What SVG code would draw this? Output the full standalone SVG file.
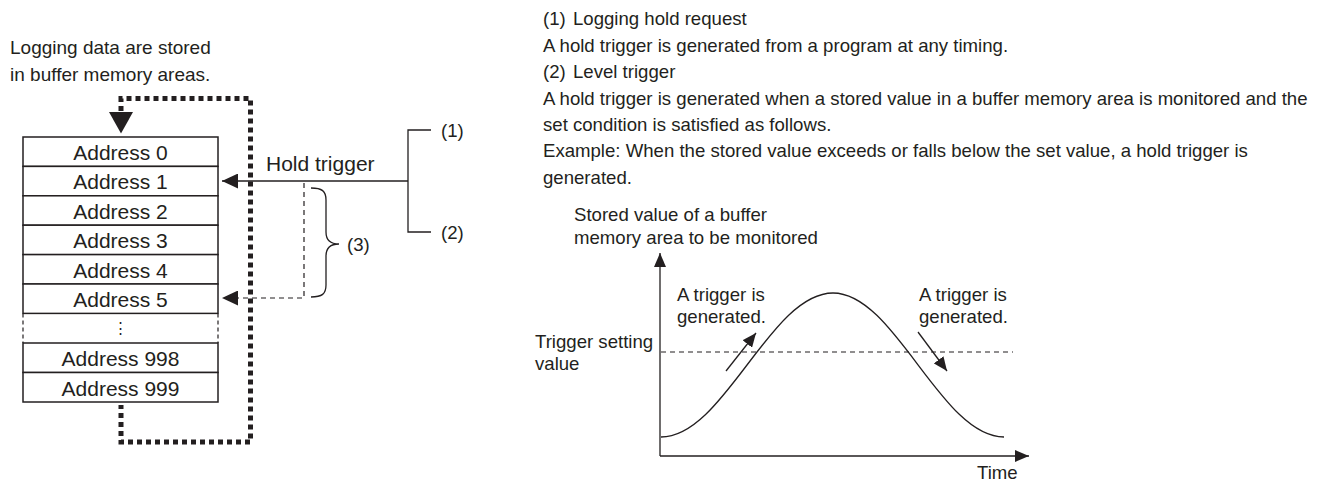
<svg xmlns="http://www.w3.org/2000/svg" width="1322" height="482" viewBox="0 0 1322 482">
<style>
text{font-family:"Liberation Sans",Arial,sans-serif;fill:#231f20}
.l{font-size:19px}
.a{font-size:21px;text-anchor:middle}
.r{font-size:18.6px}
.box{fill:#fff;stroke:#231f20;stroke-width:1.5}
.dot{fill:none;stroke:#231f20;stroke-width:5;stroke-dasharray:5 4}
.thin{fill:none;stroke:#231f20;stroke-width:1.3}
.dash{fill:none;stroke:#231f20;stroke-width:1.2;stroke-dasharray:5 4}
</style>
<defs>
<marker id="ah" markerWidth="16" markerHeight="15" refX="16" refY="7.5" orient="auto" markerUnits="userSpaceOnUse"><path d="M0,0 L16,7.5 L0,15 Z" fill="#231f20"/></marker>
<marker id="as" markerWidth="14" markerHeight="12" refX="14" refY="6" orient="auto" markerUnits="userSpaceOnUse"><path d="M0,0 L14,6 L0,12 Z" fill="#231f20"/></marker>
</defs>
<g id="caption">
<text class="l" x="10" y="54">Logging data are stored</text>
<text class="l" x="10" y="81">in buffer memory areas.</text>
</g>
<g id="buffer">
<rect class="box" x="23" y="137" width="195" height="29.4"/>
<rect class="box" x="23" y="166.4" width="195" height="29.4"/>
<rect class="box" x="23" y="195.8" width="195" height="29.4"/>
<rect class="box" x="23" y="225.2" width="195" height="29.4"/>
<rect class="box" x="23" y="254.6" width="195" height="29.4"/>
<rect class="box" x="23" y="284" width="195" height="29.4"/>
<path d="M23,313.4 V343 M218,313.4 V343" fill="none" stroke="#231f20" stroke-width="1.2" stroke-dasharray="4 3"/>
<text x="120.5" y="333" text-anchor="middle" style="font-size:15px">⋮</text>
<rect class="box" x="23" y="343" width="195" height="29.5"/>
<rect class="box" x="23" y="372.5" width="195" height="29.5"/>
<text class="a" x="120.5" y="159.5">Address 0</text>
<text class="a" x="120.5" y="189">Address 1</text>
<text class="a" x="120.5" y="218.5">Address 2</text>
<text class="a" x="120.5" y="248">Address 3</text>
<text class="a" x="120.5" y="277.5">Address 4</text>
<text class="a" x="120.5" y="306.5">Address 5</text>
<text class="a" x="120.5" y="366">Address 998</text>
<text class="a" x="120.5" y="395.5">Address 999</text>
</g>
<g id="connectors">
<path class="dot" d="M121,111 V98.5 H250.5 V442 H121 V405"/>
<path d="M109,112 L133,112 L121,133.5 Z" fill="#231f20"/>
<path class="thin" d="M408,181 H222" marker-end="url(#ah)"/>
<path class="thin" d="M431,130 H408 V232 H431"/>
<path class="dash" d="M304,183 V298 H222" marker-end="url(#ah)"/>
<path class="thin" d="M311,188 C322,188 326,191 326,200 V232 C326,240 330,244 339,244 C330,244 326,248 326,256 V285 C326,294 322,297 311,297"/>
</g>
<g id="labels">
<text x="266" y="171" style="font-size:21px">Hold trigger</text>
<text class="r" x="441" y="136.5">(1)</text>
<text class="r" x="441" y="238.5">(2)</text>
<text class="r" x="347" y="250.5">(3)</text>
</g>
<g id="description">
<text class="r" x="543" y="25"><tspan>(1)</tspan><tspan x="573">Logging hold request</tspan></text>
<text class="r" x="543" y="51.5">A hold trigger is generated from a program at any timing.</text>
<text class="r" x="543" y="78"><tspan>(2)</tspan><tspan x="573">Level trigger</tspan></text>
<text class="r" x="543" y="104.5">A hold trigger is generated when a stored value in a buffer memory area is monitored and the</text>
<text class="r" x="543" y="131">set condition is satisfied as follows.</text>
<text class="r" x="543" y="157">Example: When the stored value exceeds or falls below the set value, a hold trigger is</text>
<text class="r" x="543" y="183.5">generated.</text>
</g>
<g id="chart">
<path class="thin" d="M660,456 V253" marker-end="url(#as)"/>
<path class="thin" d="M660,456 H1029" marker-end="url(#as)"/>
<path class="dash" d="M661,352 H1013"/>
<path class="thin" d="M661,437 C724,437 770,293 833,293 C895,293 941,437 1004,437"/>
<path class="thin" d="M726,371 L756,333" marker-end="url(#as)"/>
<path class="thin" d="M918,332 L947,371" marker-end="url(#as)"/>
<text class="r" x="574" y="221">Stored value of a buffer</text>
<text class="r" x="574" y="244">memory area to be monitored</text>
<text class="r" x="535" y="348">Trigger setting</text>
<text class="r" x="535" y="370">value</text>
<text class="r" x="677" y="301">A trigger is</text>
<text class="r" x="677" y="323">generated.</text>
<text class="r" x="919" y="301">A trigger is</text>
<text class="r" x="919" y="323">generated.</text>
<text class="r" x="977" y="479">Time</text>
</g>
</svg>
